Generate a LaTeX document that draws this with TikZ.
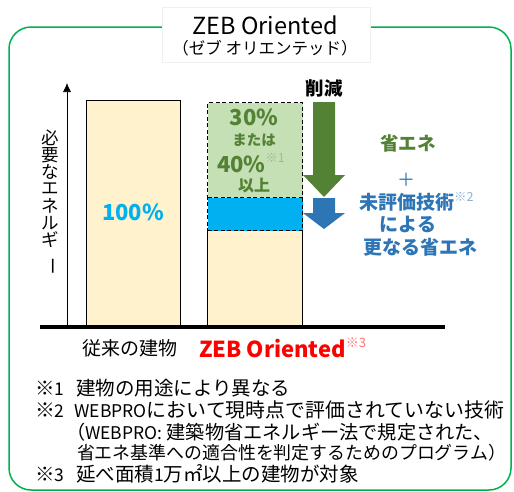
\documentclass[tikz,border=0pt]{standalone}
\usepackage{fontspec}
\usetikzlibrary{arrows.meta}
\setmainfont{Noto Sans CJK JP}
\definecolor{framegreen}{HTML}{00B050}
\definecolor{beige}{HTML}{FFF2CC}
\definecolor{lightgreen}{HTML}{C5E0B4}
\definecolor{darkgreen}{HTML}{548235}
\definecolor{cyanb}{HTML}{00B0F0}
\definecolor{arrowblue}{HTML}{2E75B6}
\definecolor{zebred}{HTML}{FF0000}
\newcommand{\fsz}[1]{\fontsize{#1}{#1}\selectfont}
\newcommand{\refmark}[2][12]{\raisebox{0.45em}{\fsz{#1}※#2}}
\newcommand{\lat}[1]{{\fsz{17.5}#1}}
\tikzset{
  txt/.style={inner sep=0pt, outer sep=0pt},
  barbox/.style={draw=black, line width=1.3pt},
  dbox/.style={barbox, dash pattern=on 4pt off 2.5pt},
  vchar/.style={txt, font=\fsz{17.5}},
  note/.style={txt, anchor=west, font=\fsz{19.5}},
}
\begin{document}
\begin{tikzpicture}[x=1pt,y=-1pt]
\useasboundingbox (0,0) rectangle (514,491);
% frame
\draw[framegreen, line width=1.5pt, rounded corners=22pt] (9,27) rectangle (511,490);
\node[draw=black!6, fill=white, minimum width=208pt, minimum height=55pt, anchor=north west, inner sep=0pt] (titlebox) at (162,7) {};
\node[txt, font=\fsz{23.5}] (title) at (265,25) {ZEB Oriented};
\node[txt, font=\fsz{16.5}] (subtitle) at (265,48) {（ゼブ オリエンテッド）};
% axis
\coordinate (axbot) at (67,327);
\coordinate (axtop) at (67,83);
\draw[line width=0.6pt, -{Latex[length=9pt,width=8pt]}] (axbot) -- (axtop);
% vertical label
\node[vchar] (v1) at (50,138) {必};
\node[vchar] (v2) at (50,155) {要};
\node[vchar] (v3) at (50,172) {な};
\node[vchar] (v4) at (50,189) {エ};
\node[vchar] (v5) at (50,206) {ネ};
\node[vchar] (v6) at (50,223) {ル};
\node[vchar] (v7) at (50,240) {ギ};
\node[vchar, rotate=-90] (v8) at (50,266) {ー};
% bar 1
\node[barbox, fill=beige, anchor=north west, minimum width=94pt, minimum height=227pt, inner sep=0pt] (bar1) at (86,100) {};
\node[txt, font=\fsz{22}\bfseries, text=cyanb] (p100) at (133,212) {100\%};
% bar 2
\node[barbox, fill=beige, anchor=north west, minimum width=95pt, minimum height=97pt, inner sep=0pt] (bar2a) at (207,230) {};
\node[dbox, fill=cyanb, anchor=north west, minimum width=95pt, minimum height=33pt, inner sep=0pt] (bar2b) at (207,197) {};
\node[dbox, fill=lightgreen, anchor=north west, minimum width=95pt, minimum height=95pt, inner sep=0pt] (bar2c) at (207,102) {};
\node[txt, font=\fsz{22}\bfseries, text=darkgreen] (t30) at (254,117) {30\%};
\node[txt, font=\fsz{14.5}\bfseries, text=darkgreen] (tmata) at (254,140) {または};
\node[txt, font=\fsz{22}\bfseries, text=darkgreen, anchor=west] (t40) at (217,163) {40\%\textmd{\textcolor{darkgreen!55}{\refmark[12.5]{1}}}};
\node[txt, font=\fsz{16}\bfseries, text=darkgreen] (tijo) at (254,186) {以上};
% base line
\coordinate (baseL) at (40,327);
\coordinate (baseR) at (445,327);
\draw[line width=4pt] (baseL) -- (baseR);
% arrows
\fill[darkgreen] (313,102) -- (335,102) -- (335,175) -- (345,175) -- (324,197) -- (303,175) -- (313,175) -- cycle;
\fill[arrowblue] (313,198) -- (335,198) -- (335,213) -- (345,213) -- (324,229) -- (303,213) -- (313,213) -- cycle;
\node[txt, font=\fsz{18.5}\bfseries] (sakugen) at (324,88) {削減};
% right texts
\node[txt, font=\fsz{18.5}\bfseries, text=darkgreen] (shoene) at (408,143) {省エネ};
\node[txt, font=\fsz{18}, text=arrowblue] (plus) at (406,180) {＋};
\node[txt, font=\fsz{19}\bfseries, text=arrowblue, anchor=west] (mihyoka) at (359,202) {未評価技術\textmd{\textcolor{arrowblue!55}{\refmark[12.5]{2}}}};
\node[txt, font=\fsz{19}\bfseries, text=arrowblue] (niyoru) at (408,224) {による};
\node[txt, font=\fsz{19}\bfseries, text=arrowblue] (saranaru) at (420,247) {更なる省エネ};
% labels
\node[txt, font=\fsz{19}] (lab1) at (130,348) {従来の建物};
\node[txt, font=\fsz{22}\bfseries, text=zebred, anchor=west] (lab2) at (199,348) {ZEB Oriented\textmd{\textcolor{zebred!55}{\refmark[13]{3}}}};
% notes
\node[note] (n1) at (35,388) {※\lat{1}\hspace{12pt}建物の用途により異なる};
\node[note, font=\fsz{19.9}] (n2) at (35,410) {※\lat{2}\hspace{10pt}\lat{WEBPRO}において現時点で評価されていない技術};
\node[note, font=\fsz{19.2}] (n3) at (66,432) {（\lat{WEBPRO:} 建築物省エネルギー法で規定された、};
\node[note, font=\fsz{17.9}] (n4) at (77,453) {省エネ基準への適合性を判定するためのプログラム）};
\node[note] (n5) at (35,474) {※\lat{3}\hspace{12pt}延べ面積\lat{1}万㎡以上の建物が対象};
\end{tikzpicture}
\end{document}
